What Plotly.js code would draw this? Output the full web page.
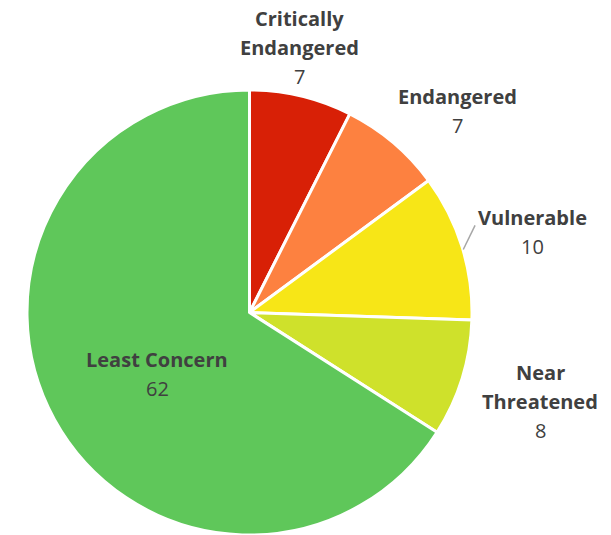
<!DOCTYPE html>
<html>
<head>
<meta charset="utf-8">
<script src="https://cdn.plot.ly/plotly-3.0.1.min.js"></script>
<style>
  html, body { margin: 0; padding: 0; background: #ffffff; }
  #chart { width: 611px; height: 535px; }
</style>
</head>
<body>
<div id="chart"></div>
<script>
// IUCN Red List status counts
const categories = ["Critically Endangered", "Endangered", "Vulnerable", "Near Threatened", "Least Concern"];
const counts = [7, 7, 10, 8, 62];
const labelLines = [["Critically", "Endangered"], ["Endangered"], ["Vulnerable"], ["Near", "Threatened"], ["Least Concern"]];
const sliceColors = ["#D82006", "#FD8140", "#F7E617", "#CFE12B", "#5FC75A"];

// Geometry of the pie in pixels
const W = 611, H = 535;
const CX = 249.5, CY = 313, R = 223;
// Label placement: radial factor (× 222 px) and angular nudge in degrees
const labelPlace = [[1.219, -2.65], [1.304, 5.6], [1.327, 1.3], [1.369, -0.4], [0.498, -4.5]];
const LABEL_R = 222;
const LINE_GAP = 29;
const textColor = "#404040";
const fontFamily = "'Open Sans', sans-serif";

const total = counts.reduce((a, b) => a + b, 0);
const midAngles = [];
let acc = 0;
counts.forEach(v => { midAngles.push((acc + v / 2) / total * 360); acc += v; });

function toPaper(angleDeg, dist) {
  const a = angleDeg * Math.PI / 180;
  const px = CX + dist * Math.sin(a);
  const py = CY - dist * Math.cos(a);
  return { x: px / W, y: (H - py) / H };
}

const annotations = [];
categories.forEach((c, i) => {
  const [k, nudge] = labelPlace[i];
  const p = toPaper(midAngles[i] + nudge, LABEL_R * k);
  const lines = labelLines[i].map(t => "<b>" + t + "</b>").concat([String(counts[i])]);
  const n = lines.length;
  lines.forEach((t, j) => {
    annotations.push({
      xref: "paper", yref: "paper", x: p.x, y: p.y,
      xanchor: "center", yanchor: "middle",
      yshift: -(j - (n - 1) / 2) * LINE_GAP,
      text: t, showarrow: false,
      font: { family: fontFamily, size: 20, color: textColor }
    });
  });
});

// Leader line for the Vulnerable label
const vi = categories.indexOf("Vulnerable");
const l0 = toPaper(midAngles[vi] + 0.7, R);
const l1 = toPaper(midAngles[vi] - 4.0, R + 19);
const shapes = [{
  type: "line", xref: "paper", yref: "paper",
  x0: l0.x, y0: l0.y, x1: l1.x, y1: l1.y,
  line: { color: "#A6A6A6", width: 1.5 }
}];

const trace = {
  type: "pie",
  labels: categories,
  values: counts,
  sort: false,
  direction: "clockwise",
  rotation: 0,
  textinfo: "none",
  hoverinfo: "label+value",
  marker: { colors: sliceColors, line: { color: "#ffffff", width: 3 } },
  domain: { x: [(CX - R) / W, (CX + R) / W], y: [(H - CY - R) / H, (H - CY + R) / H] },
  showlegend: false
};

const layout = {
  width: W, height: H,
  margin: { l: 0, r: 0, t: 0, b: 0 },
  paper_bgcolor: "#ffffff",
  showlegend: false,
  annotations: annotations,
  shapes: shapes
};

Plotly.newPlot("chart", [trace], layout, { displayModeBar: false, staticPlot: true });
</script>
</body>
</html>
